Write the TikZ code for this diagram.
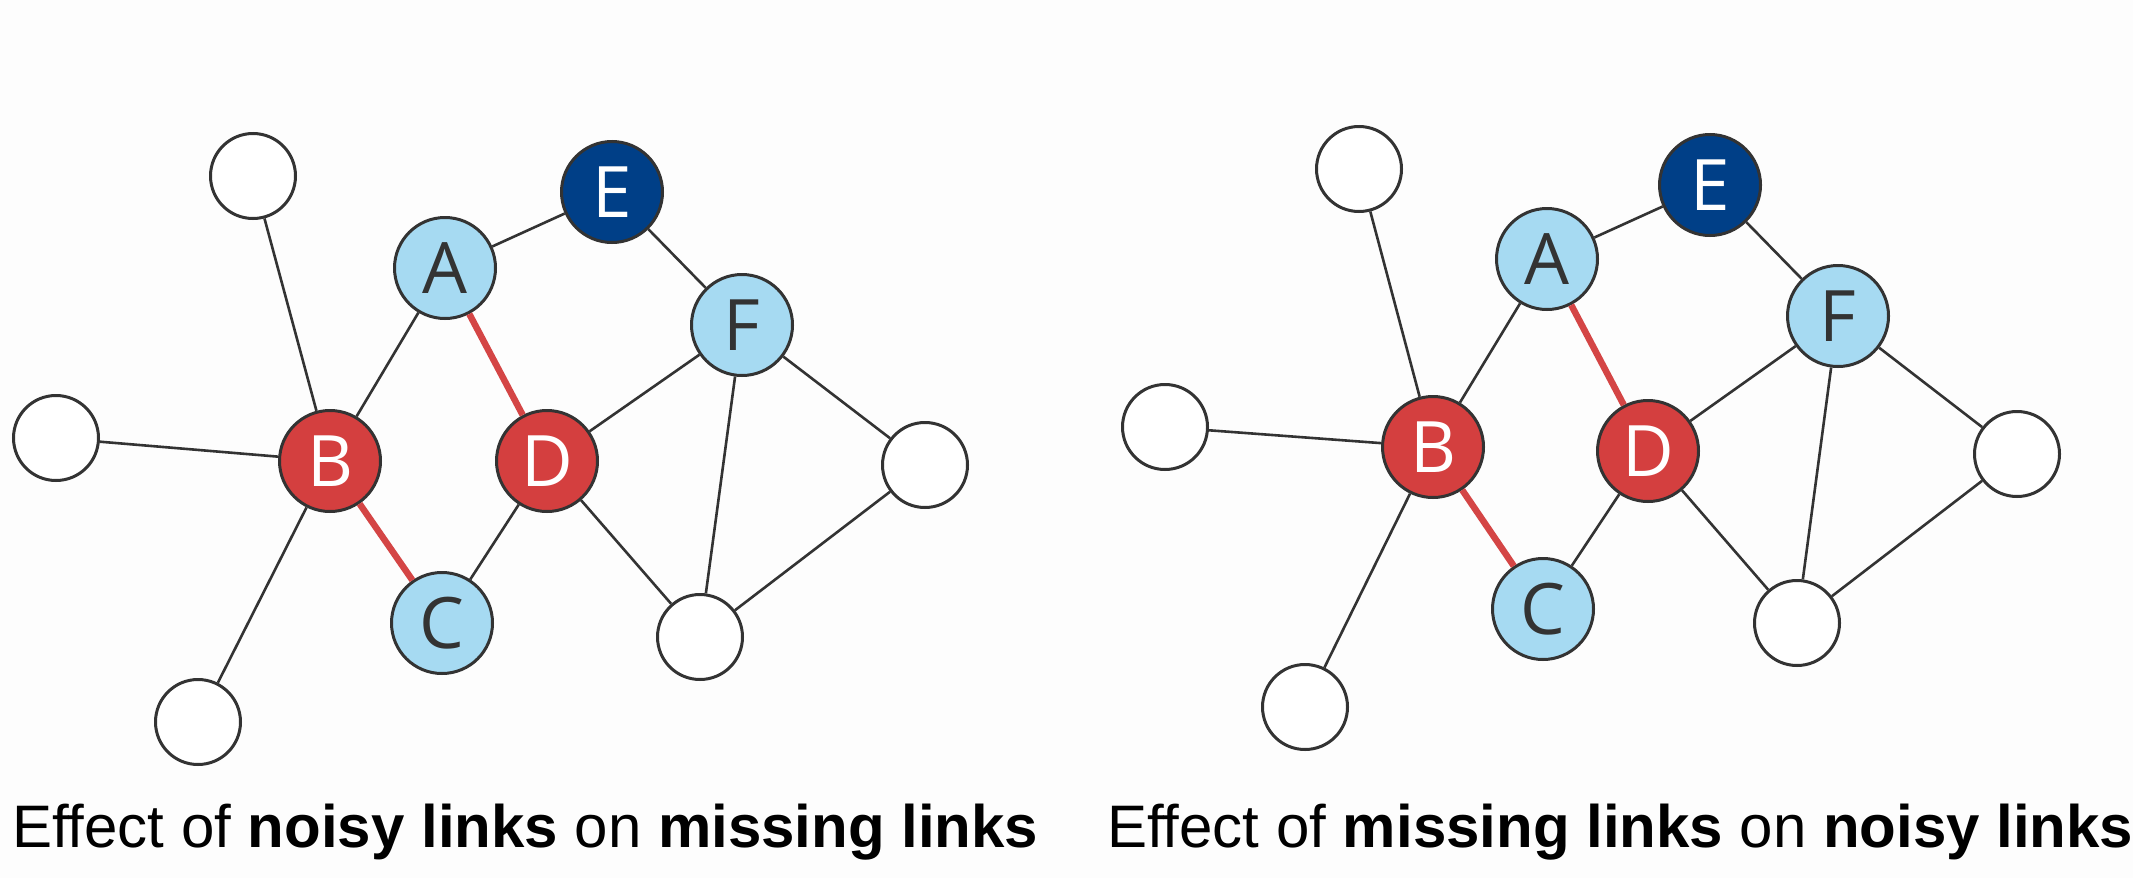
\documentclass[tikz,border=0pt]{standalone}
\usepackage{fontspec}
\setmainfont{Liberation Sans}
\newfontfamily\nodefont{Open Sans}
\definecolor{lblue}{HTML}{A6DAF2}
\definecolor{dblue}{HTML}{003F87}
\definecolor{nred}{HTML}{D43F3F}
\definecolor{bord}{HTML}{333333}
\definecolor{ered}{HTML}{D44545}
\definecolor{bgc}{HTML}{FDFDFD}
\tikzset{
  basenode/.style={circle, draw=bord, line width=3pt, inner sep=0pt, font=\nodefont\fontsize{71}{71}\selectfont},
  wnode/.style={basenode, fill=white, minimum size=85pt},
  bnode/.style={basenode, fill=lblue, text=bord, minimum size=101pt},
  rnode/.style={basenode, fill=nred, text=white, minimum size=101pt},
  enode/.style={basenode, fill=dblue, text=white, minimum size=101pt},
  plainlink/.style={draw=bord, line width=2.6pt},
  redlink/.style={draw=ered, line width=6.5pt},
  captext/.style={anchor=base west, inner sep=0pt, font=\fontsize{60}{60}\selectfont}
}
\begin{document}
\begin{tikzpicture}[x=1pt,y=-1pt]
\fill[bgc] (0,0) rectangle (2133,878);
\useasboundingbox (0,0) rectangle (2133,878);
% left graph
\node[wnode] (Ltw) at (253,176) {};
\node[enode] (LE) at (612,192) {E};
\node[bnode] (LA) at (445,268) {A};
\node[bnode] (LF) at (742,325) {F};
\node[wnode] (Llw) at (56,438) {};
\node[rnode] (LB) at (330,461) {B};
\node[rnode] (LD) at (547,461) {D};
\node[wnode] (Lrw) at (925,465) {};
\node[bnode] (LC) at (442,623) {C};
\node[wnode] (Lbm) at (700,637) {};
\node[wnode] (Lbl) at (198,722) {};
\draw[plainlink] (Ltw) -- (LB);
\draw[plainlink] (Llw) -- (LB);
\draw[plainlink] (Lbl) -- (LB);
\draw[plainlink] (LA) -- (LB);
\draw[plainlink] (LA) -- (LE);
\draw[plainlink] (LE) -- (LF);
\draw[plainlink] (LF) -- (LD);
\draw[plainlink] (LD) -- (LC);
\draw[plainlink] (LD) -- (Lbm);
\draw[plainlink] (LF) -- (Lbm);
\draw[plainlink] (LF) -- (Lrw);
\draw[plainlink] (Lrw) -- (Lbm);
\draw[redlink] (LA) -- (LD);
\draw[redlink] (LB) -- (LC);
% right graph
\node[wnode] (Rtw) at (1359,169) {};
\node[enode] (RE) at (1710,185) {E};
\node[bnode] (RA) at (1547,259) {A};
\node[bnode] (RF) at (1838,316) {F};
\node[wnode] (Rlw) at (1165,427) {};
\node[rnode] (RB) at (1433,447) {B};
\node[rnode] (RD) at (1648,451) {D};
\node[wnode] (Rrw) at (2017,454) {};
\node[bnode] (RC) at (1543,609) {C};
\node[wnode] (Rbm) at (1797,623) {};
\node[wnode] (Rbl) at (1305,707) {};
\draw[plainlink] (Rtw) -- (RB);
\draw[plainlink] (Rlw) -- (RB);
\draw[plainlink] (Rbl) -- (RB);
\draw[plainlink] (RA) -- (RB);
\draw[plainlink] (RA) -- (RE);
\draw[plainlink] (RE) -- (RF);
\draw[plainlink] (RF) -- (RD);
\draw[plainlink] (RD) -- (RC);
\draw[plainlink] (RD) -- (Rbm);
\draw[plainlink] (RF) -- (Rbm);
\draw[plainlink] (RF) -- (Rrw);
\draw[plainlink] (Rrw) -- (Rbm);
\draw[redlink] (RA) -- (RD);
\draw[redlink] (RB) -- (RC);
% captions
\node[captext] (capL) at (12,847) {Effect of \textbf{noisy links} on \textbf{missing links}};
\node[captext] (capR) at (1107,847) {Effect of \textbf{missing links} on \textbf{noisy links}};
\end{tikzpicture}
\end{document}
